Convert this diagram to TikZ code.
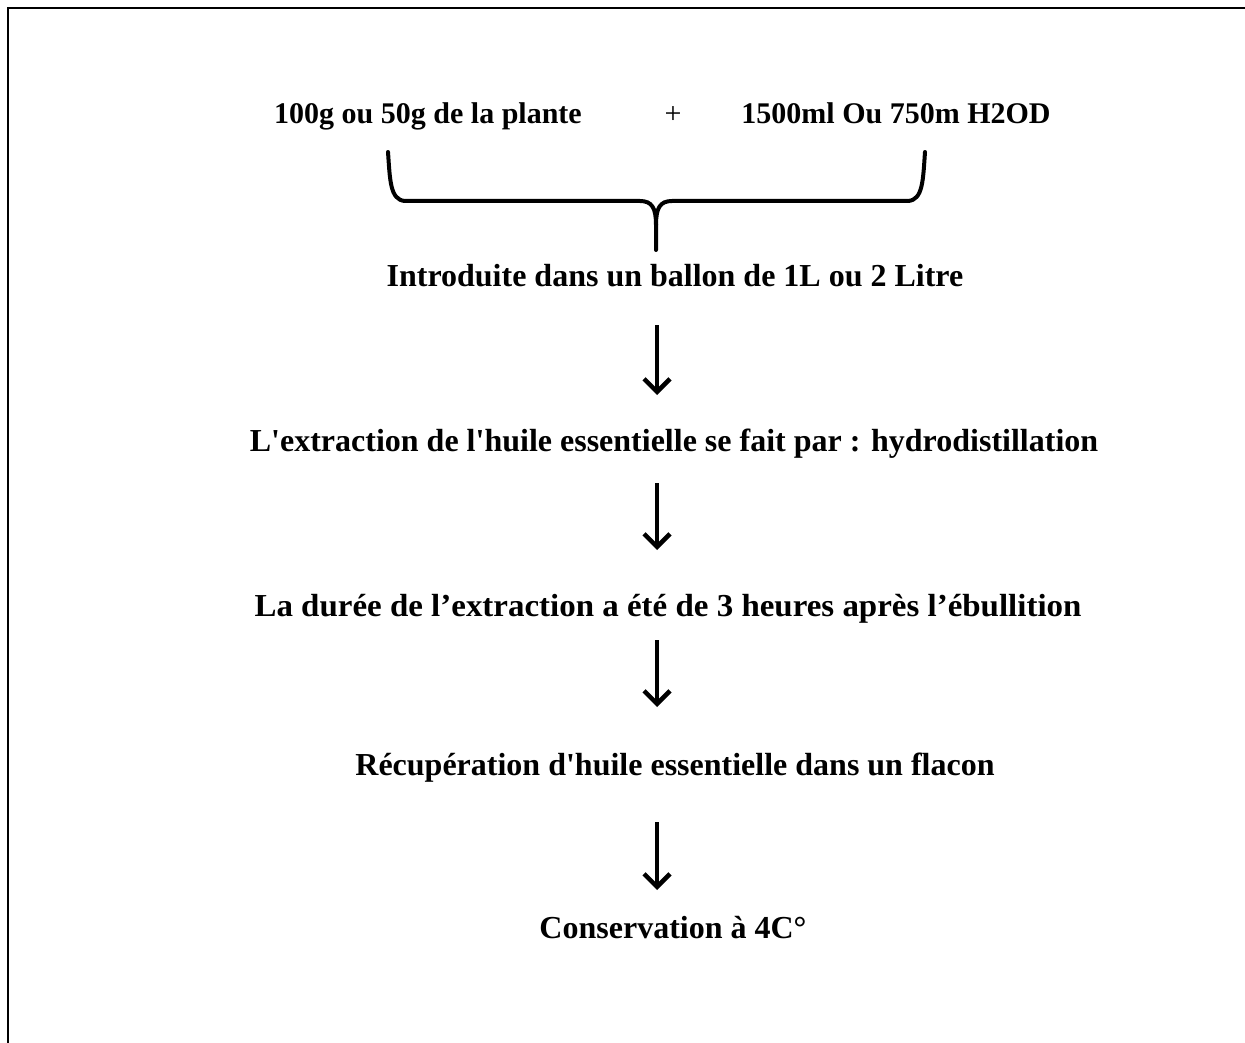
\documentclass[tikz,border=0pt]{standalone}
\usepackage{fontspec}
\setmainfont{Liberation Serif}
\newfontfamily\tnr{Liberation Serif}
\usetikzlibrary{arrows.meta,calc}
\begin{document}
\begin{tikzpicture}[x=1pt,y=-1pt,
  txt/.style={font=\tnr\fontsize{32}{38}\selectfont\bfseries, inner sep=0pt, anchor=base},
  top/.style={font=\tnr\fontsize{30}{36}\selectfont\bfseries, inner sep=0pt, anchor=base},
  plus/.style={font=\tnr\fontsize{30}{36}\selectfont, inner sep=0pt, anchor=base},
  arr/.style={line width=4.5pt, -{Straight Barb[length=13pt,width=26pt,line width=4.5pt]}},
  brace/.style={line width=4pt, line cap=round, line join=round}]
\useasboundingbox (0,0) rectangle (1245,1043);
\draw[line width=2.5pt] (8,1043) -- (8,8) -- (1245,8);
\node[top] (a) at (428,124) {100g ou 50g de la plante};
\node[plus] (p) at (673,124) {+};
\node[top] (b) at (896,124) {1500ml Ou 750m H2OD};
\draw[brace] (388,152) .. controls (390,180) and (390,200) .. (405,201) -- (640,201)
  .. controls (652,201) and (656,208) .. (656,225) -- (656,250);
\draw[brace] (925,152) .. controls (923,180) and (923,200) .. (908,201) -- (672,201)
  .. controls (660,201) and (656,208) .. (656,225);
\node[txt] (c) at (675,287) {Introduite dans un ballon de 1L ou 2 Litre};
\node[txt] (d) at (674,451) {L'extraction de l'huile essentielle se fait par : hydrodistillation};
\node[txt, xscale=1.03] (e) at (668,616) {La durée de l’extraction a été de 3 heures après l’ébullition};
\node[txt] (f) at (675,775) {Récupération d'huile essentielle dans un flacon};
\node[txt] (g) at (673,938) {Conservation à 4C°};
\coordinate (c1) at (657,325); \coordinate (c2) at (657,395);
\coordinate (d1) at (657,483); \coordinate (d2) at (657,550);
\coordinate (e1) at (657,640); \coordinate (e2) at (657,707);
\coordinate (f1) at (657,822); \coordinate (f2) at (657,890);
\draw[arr] (c1) -- (c2);
\draw[arr] (d1) -- (d2);
\draw[arr] (e1) -- (e2);
\draw[arr] (f1) -- (f2);
\end{tikzpicture}
\end{document}
